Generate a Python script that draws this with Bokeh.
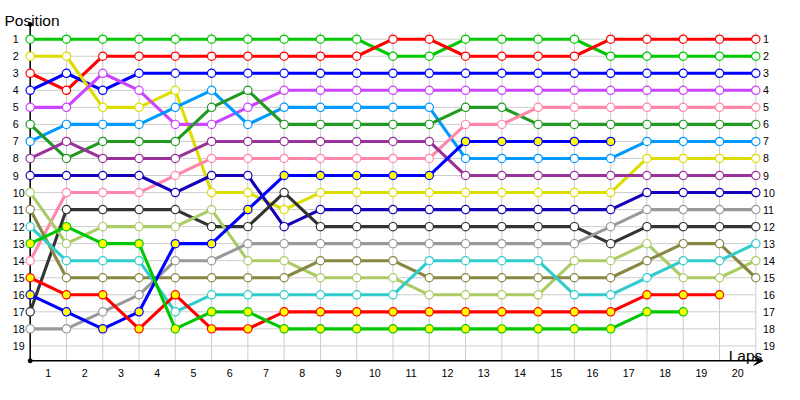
from bokeh.plotting import figure
from bokeh.models import Range1d, Arrow, VeeHead
from bokeh.embed import file_html
from bokeh.resources import INLINE
from bokeh.core.properties import value

# ---------------- data ----------------
laps = [0, 1, 2, 3, 4, 5, 6, 7, 8, 9, 10, 11, 12, 13, 14, 15, 16, 17, 18, 19, 20]
lap_labels = ["1", "2", "3", "4", "5", "6", "7", "8", "9", "10",
              "11", "12", "13", "14", "15", "16", "17", "18", "19", "20"]
positions = [1, 2, 3, 4, 5, 6, 7, 8, 9, 10, 11, 12, 13, 14, 15, 16, 17, 18, 19]
position_labels = ["1", "2", "3", "4", "5", "6", "7", "8", "9", "10",
                   "11", "12", "13", "14", "15", "16", "17", "18", "19"]

green_a = [1, 1, 1, 1, 1, 1, 1, 1, 1, 1, 2, 2, 1, 1, 1, 1, 2, 2, 2, 2, 2]
red_a = [3, 4, 2, 2, 2, 2, 2, 2, 2, 2, 1, 1, 2, 2, 2, 2, 1, 1, 1, 1, 1]
blue_a = [4, 3, 4, 3, 3, 3, 3, 3, 3, 3, 3, 3, 3, 3, 3, 3, 3, 3, 3, 3, 3]
yellow = [2, 2, 5, 5, 4, 10, 10, 11, 10, 10, 10, 10, 10, 10, 10, 10, 10, 8, 8, 8, 8]
violet = [5, 5, 3, 4, 6, 6, 5, 4, 4, 4, 4, 4, 4, 4, 4, 4, 4, 4, 4, 4, 4]
sky = [7, 6, 6, 6, 5, 4, 6, 5, 5, 5, 5, 5, 8, 8, 8, 8, 8, 7, 7, 7, 7]
forest = [6, 8, 7, 7, 7, 5, 4, 6, 6, 6, 6, 6, 5, 5, 6, 6, 6, 6, 6, 6, 6]
pink = [14, 10, 10, 10, 9, 8, 8, 8, 8, 8, 8, 8, 6, 6, 5, 5, 5, 5, 5, 5, 5]
plum = [8, 7, 8, 8, 8, 7, 7, 7, 7, 7, 7, 7, 9, 9, 9, 9, 9, 9, 9, 9, 9]
navy = [9, 9, 9, 9, 10, 9, 9, 12, 11, 11, 11, 11, 11, 11, 11, 11, 11, 10, 10, 10, 10]
charcoal = [17, 11, 11, 11, 11, 12, 12, 10, 12, 12, 12, 12, 12, 12, 12, 12, 13, 12, 12, 12, 12]
lime = [10, 13, 12, 12, 12, 11, 14, 14, 15, 15, 15, 16, 16, 16, 16, 14, 14, 13, 15, 15, 14]
olive = [11, 15, 15, 15, 15, 15, 15, 15, 14, 14, 14, 15, 15, 15, 15, 15, 15, 14, 13, 13, 15]
teal = [12, 14, 14, 14, 17, 16, 16, 16, 16, 16, 16, 14, 14, 14, 14, 16, 16, 15, 14, 14, 13]
gray = [18, 18, 17, 16, 14, 14, 13, 13, 13, 13, 13, 13, 13, 13, 13, 13, 12, 11, 11, 11, 11]
blue_b = [16, 17, 18, 17, 13, 13, 11, 9, 9, 9, 9, 9, 7, 7, 7, 7, 7]
red_b = [15, 16, 16, 18, 16, 18, 18, 17, 17, 17, 17, 17, 17, 17, 17, 17, 17, 16, 16, 16]
green_b = [13, 12, 13, 13, 18, 17, 17, 18, 18, 18, 18, 18, 18, 18, 18, 18, 18, 17, 17]

series = [
    (green_a, "#00C800", "white"),
    (red_a, "#FF0000", "white"),
    (blue_a, "#0000FF", "white"),
    (yellow, "#DDDD00", "white"),
    (violet, "#CC44FF", "white"),
    (sky, "#0099FF", "white"),
    (forest, "#229922", "white"),
    (pink, "#FF88AA", "white"),
    (plum, "#993399", "white"),
    (navy, "#1400B8", "white"),
    (charcoal, "#333333", "white"),
    (lime, "#AACC66", "white"),
    (olive, "#888844", "white"),
    (teal, "#33CCCC", "white"),
    (gray, "#999999", "white"),
    (blue_b, "#0000FF", "#FFFF00"),
    (red_b, "#FF0000", "#FFFF00"),
    (green_b, "#00C800", "#FFFF00"),
]

# ---------------- layout ----------------
W, H = 784, 384
SX, SY = W / 800.0, H / 400.0          # squeeze the 800x400 design into the page
LAP_PX = 37.02 * SX
ROW_PX = 17.75 * SY
X0 = -30.3 * SX / LAP_PX
X1 = X0 + W / LAP_PX
Y_TOP = 1 - 40.3 * SY / ROW_PX
Y_BOT = Y_TOP + H / ROW_PX


def xpx(px):
    return X0 + px * SX / LAP_PX


def ypx(px):
    return Y_TOP + px * SY / ROW_PX


AXIS_Y = ypx(375.3)
AXIS_TOP = ypx(25)
GRID_TOP = ypx(33)
ARROW_END = xpx(778)

p = figure(width=W, height=H, x_range=Range1d(X0, X1), y_range=Range1d(Y_BOT, Y_TOP),
           output_backend="svg", toolbar_location=None, min_border=0,
           x_axis_type=None, y_axis_type=None, outline_line_color=None,
           background_fill_color="white", border_fill_color="white")
p.grid.visible = False

first_lap, last_lap = laps[0], laps[-1]

# grid
p.segment(x0=laps, y0=[GRID_TOP] * len(laps), x1=laps, y1=[AXIS_Y] * len(laps),
          line_color="#CCCCCC", line_width=1)
p.segment(x0=[first_lap] * len(positions), y0=positions,
          x1=[last_lap] * len(positions), y1=positions,
          line_color="#CCCCCC", line_width=1)

# axes
p.line(x=[first_lap, first_lap], y=[AXIS_TOP, AXIS_Y], line_color="black", line_width=1.5)
p.add_layout(Arrow(end=VeeHead(size=9, line_color="black", fill_color="black", line_width=1),
                   x_start=first_lap, y_start=AXIS_Y, x_end=ARROW_END, y_end=AXIS_Y,
                   line_color="black", line_width=1.5))
p.scatter(x=[first_lap, first_lap], y=[AXIS_TOP, AXIS_Y], size=4, color="black")

# series
for vals, col, fill in series:
    xs = laps[:len(vals)]
    p.line(x=xs, y=vals, line_color=col, line_width=3.1)
    p.scatter(x=xs, y=vals, size=8.3, marker="circle", fill_color=fill,
              line_color=col, line_width=1.2)

font = value("Liberation Sans")
# tick labels
p.text(x=[xpx(12.5)] * len(positions), y=positions, text=position_labels,
       text_font=font, text_font_size="10.7px", text_align="left",
       text_baseline="middle", text_color="black")
p.text(x=[xpx(778)] * len(positions), y=positions, text=position_labels,
       text_font=font, text_font_size="10.7px", text_align="left",
       text_baseline="middle", text_color="black")
p.text(x=[l - 0.5 for l in laps[1:]], y=[ypx(388)] * len(lap_labels), text=lap_labels,
       text_font=font, text_font_size="10.7px", text_align="center",
       text_baseline="middle", text_color="black")

# axis titles
p.text(x=[xpx(4)], y=[ypx(21)], text=["Position"], text_font=font,
       text_font_size="15.5px", text_align="left", text_baseline="alphabetic",
       text_color="black")
p.text(x=[xpx(743)], y=[ypx(369.5)], text=["Laps"], text_font=font,
       text_font_size="15.5px", text_align="left", text_baseline="alphabetic",
       text_color="black")

open("out.html", "w").write(file_html(p, INLINE))
